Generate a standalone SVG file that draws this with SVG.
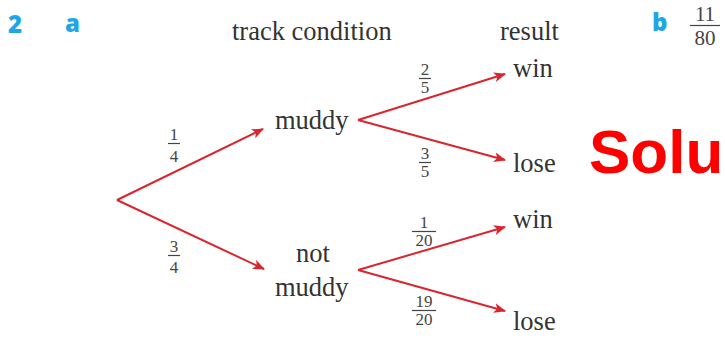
<svg xmlns="http://www.w3.org/2000/svg" width="725" height="341" viewBox="0 0 725 341">
  <defs>
    <marker id="arrow" viewBox="0 0 12 10" refX="11" refY="5" markerWidth="12" markerHeight="10" markerUnits="userSpaceOnUse" orient="auto">
      <path d="M0,0 L12,5 L0,10 L3,5 Z" fill="#d9262e"/>
    </marker>
  </defs>
  <style>
    .lbl { font-family: "Liberation Serif", "DejaVu Serif", serif; font-size: 26.5px; fill: #333; }
    .frac { font-family: "Liberation Serif", "DejaVu Serif", serif; font-size: 17px; fill: #444; text-anchor: middle; }
    .bar { stroke: #444; stroke-width: 1.2; }
    .edge { stroke: #d9262e; stroke-width: 2; fill: none; marker-end: url(#arrow); }
    .tag { font-family: "Open Sans", "DejaVu Sans", sans-serif; font-weight: 800; font-size: 24px; fill: #1ea7e4; }
  </style>
  <rect width="725" height="341" fill="#fff"/>

  <!-- question tags -->
  <text class="tag" x="8" y="33">2</text>
  <text class="tag" x="65" y="32">a</text>
  <text class="tag" x="652" y="31">b</text>
  <g id="answer-b">
    <text class="frac" x="705" y="21" style="font-size:21px">11</text>
    <line class="bar" x1="690" y1="25.5" x2="720" y2="25.5"/>
    <text class="frac" x="705" y="45" style="font-size:21px">80</text>
  </g>

  <!-- column headings -->
  <text class="lbl" x="232" y="40">track condition</text>
  <text class="lbl" x="500" y="40">result</text>

  <!-- connectors -->
  <g id="edges">
    <path class="edge" d="M117,200 L263,129"/>
    <path class="edge" d="M117,200 L264,269"/>
    <path class="edge" d="M358,120 L505,74"/>
    <path class="edge" d="M358,120 L505,160"/>
    <path class="edge" d="M358,270 L505,227"/>
    <path class="edge" d="M358,270 L505,311"/>
  </g>

  <!-- edge probabilities -->
  <g id="p-muddy">
    <text class="frac" x="174" y="140">1</text>
    <line class="bar" x1="168" y1="143.5" x2="180" y2="143.5"/>
    <text class="frac" x="174" y="162">4</text>
  </g>
  <g id="p-not-muddy">
    <text class="frac" x="174" y="252">3</text>
    <line class="bar" x1="168" y1="255.5" x2="180" y2="255.5"/>
    <text class="frac" x="174" y="273">4</text>
  </g>
  <g id="p-muddy-win">
    <text class="frac" x="425" y="75">2</text>
    <line class="bar" x1="419" y1="78.5" x2="431" y2="78.5"/>
    <text class="frac" x="425" y="93">5</text>
  </g>
  <g id="p-muddy-lose">
    <text class="frac" x="425" y="159">3</text>
    <line class="bar" x1="419" y1="162.5" x2="431" y2="162.5"/>
    <text class="frac" x="425" y="177">5</text>
  </g>
  <g id="p-not-win">
    <text class="frac" x="424" y="228">1</text>
    <line class="bar" x1="412" y1="231.5" x2="436" y2="231.5"/>
    <text class="frac" x="424" y="246">20</text>
  </g>
  <g id="p-not-lose">
    <text class="frac" x="424" y="307">19</text>
    <line class="bar" x1="412" y1="310.5" x2="436" y2="310.5"/>
    <text class="frac" x="424" y="325">20</text>
  </g>

  <!-- nodes -->
  <g id="node-muddy">
    <text class="lbl" x="275" y="129">muddy</text>
  </g>
  <g id="node-not-muddy">
    <text class="lbl" x="313" y="262" text-anchor="middle">not</text>
    <text class="lbl" x="275" y="296">muddy</text>
  </g>
  <g id="node-muddy-win">
    <text class="lbl" x="513" y="77">win</text>
  </g>
  <g id="node-muddy-lose">
    <text class="lbl" x="513" y="172">lose</text>
  </g>
  <g id="node-not-win">
    <text class="lbl" x="513" y="228">win</text>
  </g>
  <g id="node-not-lose">
    <text class="lbl" x="513" y="330">lose</text>
  </g>

  <!-- stamp -->
  <text x="589" y="173" font-family="Liberation Sans, Arial, sans-serif" font-weight="bold" font-size="62" fill="#ff0000">Solu</text>
</svg>
